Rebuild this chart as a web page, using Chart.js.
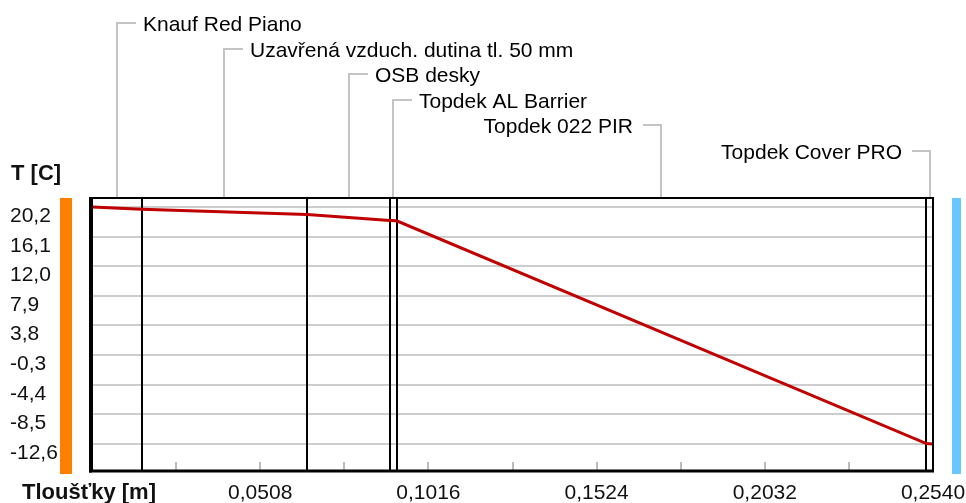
<!DOCTYPE html>
<html>
<head>
<meta charset="utf-8">
<title>Průběh teploty v konstrukci</title>
<script src="https://cdn.jsdelivr.net/npm/chart.js@4/dist/chart.umd.min.js"></script>
<style>
    html, body { margin: 0; padding: 0; background: #fff; }
    #wrap { width: 966px; height: 503px; }
</style>
</head>
<body>
<div id="wrap"><canvas id="tempChart" width="966" height="503"></canvas></div>
<script>
// layers of the construction, from inside to outside
const layerNames = [
    'Knauf Red Piano',
    'Uzavřená vzduch. dutina tl. 50 mm',
    'OSB desky',
    'Topdek AL Barrier',
    'Topdek 022 PIR',
    'Topdek Cover PRO'
];
// layer interfaces [m] and temperature on them [C]
const layerBounds = [0, 0.015, 0.065, 0.090, 0.092, 0.252, 0.254];
const boundaryTemps = [20.2, 19.9, 19.15, 18.35, 18.3, -12.55, -12.6];

// axis ticks
const tempTicks = [20.2, 16.1, 12.0, 7.9, 3.8, -0.3, -4.4, -8.5, -12.6];
const thicknessTicks = [0.0508, 0.1016, 0.1524, 0.2032, 0.2540];
const minorTicks = [0.0254, 0.0508, 0.0762, 0.1016, 0.1270, 0.1524, 0.1778, 0.2032, 0.2286];

const FONT = "21px 'Liberation Sans', Arial, sans-serif";
const BOLD = "bold 22px 'Liberation Sans', Arial, sans-serif";

document.addEventListener("DOMContentLoaded", function () {

    function line(ctx, x1, y1, x2, y2) {
        ctx.beginPath();
        ctx.moveTo(x1, y1);
        ctx.lineTo(x2, y2);
        ctx.stroke();
    }

    const decor = {
        id: 'decor',
        beforeDatasetsDraw(chart) {
            const { ctx, chartArea: a, scales: { x } } = chart;
            ctx.save();
            // small ticks on the bottom axis
            ctx.strokeStyle = '#bdbdbd';
            ctx.lineWidth = 2;
            minorTicks.forEach(v => {
                const px = Math.round(x.getPixelForValue(v));
                line(ctx, px, a.bottom - 9, px, a.bottom);
            });
            // layer interfaces
            ctx.strokeStyle = '#000';
            ctx.lineWidth = 2;
            layerBounds.slice(1, -1).forEach(v => {
                const px = Math.round(x.getPixelForValue(v));
                line(ctx, px, a.top, px, a.bottom);
            });
            ctx.restore();
        },
        afterDraw(chart) {
            const { ctx, chartArea: a, scales: { x, y } } = chart;
            ctx.save();

            // frame
            ctx.strokeStyle = '#000';
            ctx.lineWidth = 2;
            ctx.strokeRect(a.left, a.top, a.right - a.left, a.bottom - a.top);
            ctx.lineWidth = 3;
            line(ctx, a.left - 1.5, a.top - 1, a.left - 1.5, a.bottom + 1.5);
            line(ctx, a.left - 3, a.bottom, a.right + 1, a.bottom);

            // inside / outside colour bars
            ctx.fillStyle = '#ff8000';
            ctx.fillRect(60, a.top, 12, a.bottom + 3 - a.top);
            ctx.fillStyle = '#66c8ff';
            ctx.fillRect(952, a.top, 9, a.bottom + 3 - a.top);

            // layer captions with leader lines
            ctx.font = FONT;
            ctx.textBaseline = 'alphabetic';
            const mid = (a.left + a.right) / 2;
            layerNames.forEach((name, i) => {
                const cx = Math.round(x.getPixelForValue((layerBounds[i] + layerBounds[i + 1]) / 2));
                const ly = Math.round(23 + i * 25.6);
                ctx.strokeStyle = '#c4c4c4';
                ctx.lineWidth = 2;
                ctx.beginPath();
                ctx.fillStyle = '#000';
                if (cx < mid) {
                    ctx.moveTo(cx, a.top - 1);
                    ctx.lineTo(cx, ly);
                    ctx.lineTo(cx + 19, ly);
                    ctx.stroke();
                    ctx.textAlign = 'left';
                    ctx.fillText(name, cx + 26, ly + 8);
                } else {
                    ctx.moveTo(cx, a.top - 1);
                    ctx.lineTo(cx, ly);
                    ctx.lineTo(cx - 18, ly);
                    ctx.stroke();
                    ctx.textAlign = 'right';
                    ctx.fillText(name, cx - 28, ly + 8);
                }
            });

            // tick labels
            ctx.fillStyle = '#111';
            ctx.textAlign = 'left';
            tempTicks.forEach(v => {
                ctx.fillText(v.toFixed(1).replace('.', ','), 10, y.getPixelForValue(v) + 15);
            });
            ctx.textAlign = 'center';
            thicknessTicks.forEach(v => {
                ctx.fillText(v.toFixed(4).replace('.', ','), x.getPixelForValue(v), 499);
            });

            // axis titles
            ctx.font = BOLD;
            ctx.textAlign = 'left';
            ctx.fillText('T [C]', 11, 180);
            ctx.fillText('Tloušťky [m]', 22, 499);
            ctx.restore();
        }
    };

    new Chart(document.getElementById('tempChart'), {
        type: 'line',
        data: {
            datasets: [{
                label: 'T',
                data: layerBounds.map((b, i) => ({ x: b, y: boundaryTemps[i] })),
                borderColor: '#c00000',
                borderWidth: 3,
                pointRadius: 0,
                tension: 0,
                fill: false
            }]
        },
        options: {
            responsive: false,
            animation: false,
            devicePixelRatio: 1,
            layout: { padding: { left: 92, top: 198, right: 33, bottom: 32 } },
            plugins: {
                legend: { display: false },
                tooltip: { enabled: false }
            },
            scales: {
                x: {
                    type: 'linear',
                    min: 0,
                    max: 0.254,
                    display: false
                },
                y: {
                    type: 'linear',
                    min: -16.35,
                    max: 21.45,
                    afterBuildTicks: scale => {
                        scale.ticks = tempTicks.map(v => ({ value: v }));
                    },
                    ticks: { display: false },
                    grid: { color: '#cdcdcd', lineWidth: 2, drawTicks: false },
                    border: { display: false }
                }
            }
        },
        plugins: [decor]
    });
});
</script>
</body>
</html>
